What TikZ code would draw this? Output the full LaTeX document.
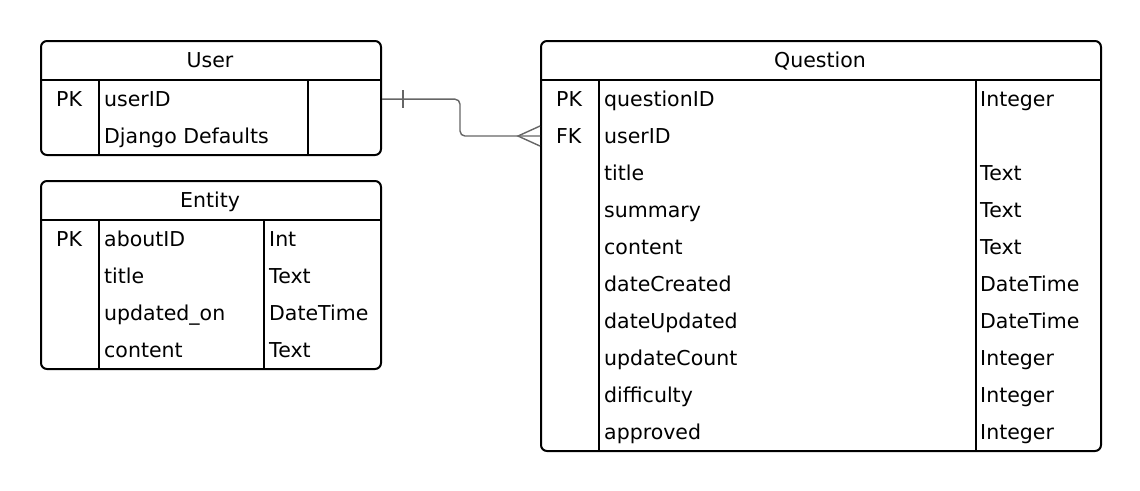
\documentclass[tikz,border=0pt]{standalone}
\usepackage{fontspec}
\setmainfont{DejaVu Sans}
\usetikzlibrary{positioning}
\tikzset{
  tbl/.style={draw, line width=2pt, rounded corners=6pt, inner sep=0pt, anchor=north west},
  grid/.style={line width=2pt},
  cell/.style={anchor=base west, inner sep=0pt, font=\fontsize{20.5}{24}\selectfont},
  ttl/.style={anchor=base, inner sep=0pt, font=\fontsize{20.5}{24}\selectfont},
  rel/.style={draw=black!60, line width=1.4pt},
}
\begin{document}
\begin{tikzpicture}[x=1pt,y=-1pt]
    \useasboundingbox (0,0) rectangle (1140,490);
    % User table
    \node[tbl, minimum width=340pt, minimum height=114pt] (user) at (40,40) {};
    \draw[grid] (40,80) -- (380,80);
    \draw[grid] (99,80) -- (99,154);
    \draw[grid] (308,80) -- (308,154);
    \node[ttl] (usertitle) at (210,67.5) {User};
    \node[cell] (upk) at (56,106.5) {PK};
    \node[cell] (uid) at (104,106.5) {userID};
    \node[cell] (udjango) at (104,143.5) {Django Defaults};
    % Entity table
    \node[tbl, minimum width=340pt, minimum height=188pt] (entity) at (40,180) {};
    \draw[grid] (40,220) -- (380,220);
    \draw[grid] (99,220) -- (99,368);
    \draw[grid] (264,220) -- (264,368);
    \node[ttl] (entitytitle) at (210,207.5) {Entity};
    \node[cell] (epk) at (56,246.5) {PK};
    \node[cell] (eid) at (104,246.5) {aboutID};
    \node[cell] (etitle) at (104,283.5) {title};
    \node[cell] (eupd) at (104,320.5) {updated\_on};
    \node[cell] (econt) at (104,357.5) {content};
    \node[cell] (eidT) at (269,246.5) {Int};
    \node[cell] (etitleT) at (269,283.5) {Text};
    \node[cell] (eupdT) at (269,320.5) {DateTime};
    \node[cell] (econtT) at (269,357.5) {Text};
    % Question table
    \node[tbl, minimum width=560pt, minimum height=410pt] (question) at (540,40) {};
    \draw[grid] (540,80) -- (1100,80);
    \draw[grid] (599,80) -- (599,450);
    \draw[grid] (976,80) -- (976,450);
    \node[ttl] (questiontitle) at (820,67.5) {Question};
    \node[cell] (qpk) at (556,106.5) {PK};
    \node[cell] (qfk) at (556,143.5) {FK};
    \node[cell] (qid) at (604,106.5) {questionID};
    \node[cell] (quser) at (604,143.5) {userID};
    \node[cell] (qtitle) at (604,180.5) {title};
    \node[cell] (qsum) at (604,217.5) {summary};
    \node[cell] (qcont) at (604,254.5) {content};
    \node[cell] (qcre) at (604,291.5) {dateCreated};
    \node[cell] (qupd) at (604,328.5) {dateUpdated};
    \node[cell] (qcount) at (604,365.5) {updateCount};
    \node[cell] (qdiff) at (604,402.5) {difficulty};
    \node[cell] (qappr) at (604,439.5) {approved};
    \node[cell] (qidT) at (980,106.5) {Integer};
    \node[cell] (qtitleT) at (980,180.5) {Text};
    \node[cell] (qsumT) at (980,217.5) {Text};
    \node[cell] (qcontT) at (980,254.5) {Text};
    \node[cell] (qcreT) at (980,291.5) {DateTime};
    \node[cell] (qupdT) at (980,328.5) {DateTime};
    \node[cell] (qcountT) at (980,365.5) {Integer};
    \node[cell] (qdiffT) at (980,402.5) {Integer};
    \node[cell] (qapprT) at (980,439.5) {Integer};
    % relation User -- Question
    \coordinate (bend) at (460,0);
    \draw[rel, rounded corners=5pt] (user.east |- uid) -| (bend |- qfk) -- (question.west |- qfk);
    \draw[rel] ([xshift=21pt]user.east |- uid) ++(0,-9) -- ++(0,18);
    \draw[rel] (question.west |- qfk) ++(0,-10) -- ++(-22,10) -- ++(22,10);
\end{tikzpicture}
\end{document}
